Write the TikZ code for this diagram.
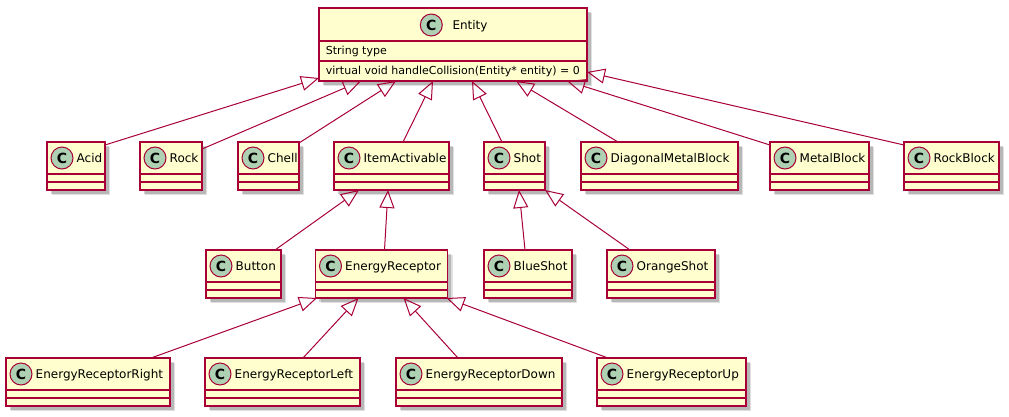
\documentclass[tikz,border=0pt]{standalone}
\usepackage{fontspec}
\setmainfont{DejaVu Sans}
\usetikzlibrary{arrows.meta,shadows}
\definecolor{umlred}{HTML}{A80036}
\definecolor{umlfill}{HTML}{FEFECE}
\definecolor{umlcirc}{HTML}{ADD1B2}
\tikzset{
 cls/.style={draw=umlred, fill=umlfill, line width=1.5pt, rectangle, inner sep=0pt, outer sep=0pt, minimum height=48pt, anchor=north west,
   drop shadow={shadow xshift=5pt, shadow yshift=-5pt, fill=black, opacity=0.12},
   drop shadow={shadow xshift=3.5pt, shadow yshift=-3.5pt, fill=black, opacity=0.18}},
 sepline/.style={draw=umlred, line width=1.5pt},
 circ/.style={circle, draw=umlred, fill=umlcirc, line width=1pt, minimum size=22pt, inner sep=0pt, font=\fontsize{14}{14}\selectfont\bfseries},
 cname/.style={anchor=base west, inner sep=0pt, font=\fontsize{12}{14}\selectfont},
 member/.style={anchor=base west, inner sep=0pt, font=\fontsize{11}{13}\selectfont},
 ext/.style={draw=umlred, line width=1pt, -{Triangle[open, length=18pt, width=15pt]}},
}
\newcommand\umlclass[5]{%
 \node[cls, minimum width=#4pt] (#1) at (#2,#3) {};
 \draw[sepline] ([yshift=-32pt]#1.north west) -- ([yshift=-32pt]#1.north east);
 \draw[sepline] ([yshift=-40pt]#1.north west) -- ([yshift=-40pt]#1.north east);
 \node[circ] (#1-c) at ([xshift=15pt,yshift=-16pt]#1.north west) {C};
 \node[cname] (#1-t) at ([xshift=29.5pt,yshift=-20.3pt]#1.north west) {#5};
}
\begin{document}
\begin{tikzpicture}[x=1pt,y=-1pt]
\fill[white] (0,0) rectangle (1009,416);
\useasboundingbox (0,0) rectangle (1009,416);
% Entity
\node[cls, minimum width=268pt, minimum height=73pt] (entity) at (319,8) {};
\draw[sepline] ([yshift=-33pt]entity.north west) -- ([yshift=-33pt]entity.north east);
\draw[sepline] ([yshift=-53pt]entity.north west) -- ([yshift=-53pt]entity.north east);
\node[circ] (entity-c) at (431.3,25) {C};
\node[cname] (entity-t) at (452.3,29.3) {Entity};
\node[member] (entity-a) at (325.7,54.3) {String type};
\node[member] (entity-m) at (325.7,74) {virtual void handleCollision(Entity* entity) = 0};
% row 1
\umlclass{acid}{47}{142}{58}{Acid}
\umlclass{rock}{140}{142}{62}{Rock}
\umlclass{chell}{238}{142}{61}{Chell}
\umlclass{item}{334}{142}{115}{ItemActivable}
\umlclass{shot}{484}{142}{61}{Shot}
\umlclass{diag}{581}{142}{157}{DiagonalMetalBlock}
\umlclass{metal}{770}{142}{99}{MetalBlock}
\umlclass{rockblock}{904}{142}{95}{RockBlock}
% row 2
\umlclass{button}{206}{250}{75}{Button}
\umlclass{er}{315.5}{250}{132}{EnergyReceptor}
\umlclass{blue}{484}{250}{88}{BlueShot}
\umlclass{orange}{607}{250}{108}{OrangeShot}
% row 3
\umlclass{err}{6}{358}{164}{EnergyReceptorRight}
\umlclass{erl}{205}{358}{155}{EnergyReceptorLeft}
\umlclass{erd}{396}{358}{166}{EnergyReceptorDown}
\umlclass{eru}{597}{358}{149}{EnergyReceptorUp}
% edges to Entity
\draw[ext] ([yshift=-3pt]acid.north east) -- ([yshift=3pt]entity.south west);
\draw[ext] ([yshift=-7pt]rock.north east) -- ([xshift=42pt]entity.south west);
\draw[ext] ([yshift=-1pt]chell.north east) -- ([xshift=77pt]entity.south west);
\draw[ext] ([xshift=69pt]item.north west) -- ([xshift=114pt]entity.south west);
\draw[ext] ([xshift=18pt]shot.north west) -- ([xshift=153pt]entity.south west);
\draw[ext] ([xshift=37pt]diag.north west) -- ([xshift=197pt]entity.south west);
\draw[ext] ([yshift=-3pt]metal.north west) -- ([xshift=248pt]entity.south west);
\draw[ext] ([yshift=-3pt]rockblock.north west) -- ([yshift=9pt]entity.south east);
% row 2 edges
\draw[ext] ([xshift=69pt]button.north west) -- ([xshift=25pt]item.south west);
\draw[ext] ([xshift=69pt]er.north west) -- ([xshift=54pt]item.south west);
\draw[ext] ([xshift=41pt]blue.north west) -- ([xshift=35pt]shot.south west);
\draw[ext] ([xshift=23pt]orange.north west) -- (shot.south east);
% row 3 edges
\draw[ext] ([xshift=145pt]err.north west) -- ([xshift=1.5pt]er.south west);
\draw[ext] ([xshift=98pt]erl.north west) -- ([xshift=43pt]er.south west);
\draw[ext] ([xshift=62pt]erd.north west) -- ([xshift=88pt]er.south west);
\draw[ext] ([xshift=11pt]eru.north west) -- ([xshift=-1pt]er.south east);
\end{tikzpicture}
\end{document}
